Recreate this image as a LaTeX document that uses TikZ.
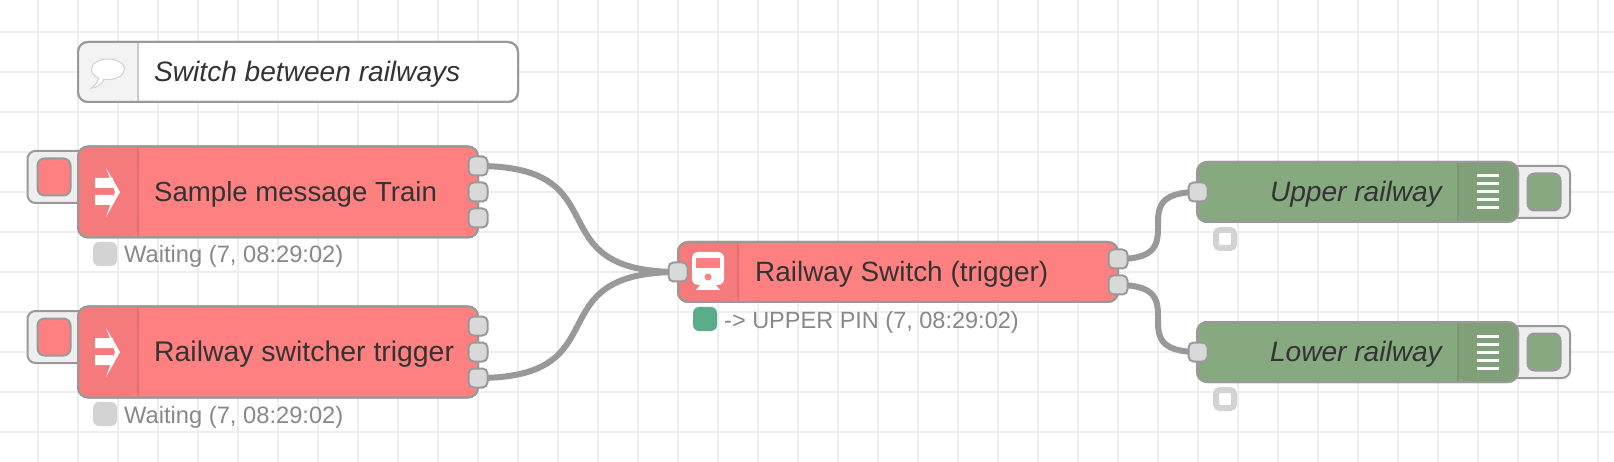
\documentclass[tikz,border=0pt]{standalone}
\usepackage{fontspec}
\setmainfont{Liberation Sans}
\usetikzlibrary{backgrounds}
\definecolor{gridc}{HTML}{EEEEEE}
\definecolor{edge}{HTML}{999999}
\definecolor{redn}{HTML}{FF8080}
\definecolor{redi}{HTML}{F47A7C}
\definecolor{redd}{HTML}{E57073}
\definecolor{grnn}{HTML}{87A980}
\definecolor{grni}{HTML}{80A07A}
\definecolor{grnd}{HTML}{799872}
\definecolor{portc}{HTML}{D9D9D9}
\definecolor{txt}{HTML}{333333}
\definecolor{stxt}{HTML}{888888}
\definecolor{stg}{HTML}{D3D3D3}
\definecolor{stn}{HTML}{5AAD88}
\tikzset{
  x=1pt,y=-1pt,
  body/.style={draw=edge,line width=2pt,rounded corners=10pt,inner sep=0pt,minimum width=#1},
  port/.style={draw=edge,fill=portc,line width=2pt,rounded corners=5pt,minimum width=19pt,minimum height=19pt,inner sep=0pt},
  btn/.style={draw=edge,fill=gridc,line width=2pt,rounded corners=8pt,inner sep=0pt,minimum width=60pt,minimum height=52pt},
  btnin/.style={draw=edge,line width=2pt,rounded corners=7pt,inner sep=0pt,minimum width=33pt,minimum height=37pt},
  label/.style={text=txt,inner sep=0pt,font=\fontsize{27.6}{30}\selectfont},
  itlabel/.style={text=txt,inner sep=0pt,font=\fontsize{28.1}{30}\selectfont\itshape},
  status/.style={text=stxt,inner sep=0pt,anchor=base west,font=\fontsize{23.7}{26}\selectfont},
  dot/.style={rounded corners=6pt,inner sep=0pt,minimum width=24pt,minimum height=24pt},
  hdot/.style={draw=stg,line width=6pt,fill=white,rounded corners=4pt,inner sep=0pt,minimum width=18pt,minimum height=18pt},
  wire/.style={draw=edge,line width=6pt},
}
% injection node: #1 name, #2 y of centre, #3 height, #4 label, #5 baseline
\newcommand{\injnode}[5]{
  \node[btn] (#1btn) at (57.5,#2-15) {};
  \node[btnin,fill=redn] (#1in) at (54,#2-15) {};
  \node[body=400pt,fill=redn,minimum height=#3] (#1) at (278,#2) {};
  \fill[redi,rounded corners=9pt] (138,#2-44) -- (79,#2-44) -- (79,#2+44) -- (138,#2+44) [sharp corners] -- cycle;
  \draw[redd,line width=2pt] (138,#2-44) -- (138,#2+44);
  \node[body=400pt,minimum height=#3] at (278,#2) {};
  \fill[white] (95,#2-14) rectangle (113,#2-4) (95,#2+3) rectangle (113,#2+13);
  \fill[white] (106,#2-24) -- (120,#2) -- (106,#2+25) -- (115,#2) -- cycle;
  \node[label,anchor=base west] (#1t) at (154,#5) {#4};
}
% output node: #1 name, #2 y, #3 label
\newcommand{\outnode}[3]{
  \node[btn] (#1btn) at (1540,#2) {};
  \node[btnin,fill=grnn] (#1in) at (1544,#2) {};
  \node[body=321pt,fill=grnn,minimum height=60pt] (#1) at (1357.5,#2) {};
  \fill[grni,rounded corners=9pt] (1458,#2-29) -- (1517,#2-29) -- (1517,#2+29) -- (1458,#2+29) [sharp corners] -- cycle;
  \draw[grnd,line width=2pt] (1458,#2-29) -- (1458,#2+29);
  \foreach \k in {-16,-8,0,8,16} \fill[white] (1477,#2+\k-1.5) rectangle (1499,#2+\k+1.5);
  \node[body=321pt,minimum height=60pt] at (1357.5,#2) {};
  \node[itlabel,anchor=base east] (#1t) at (1442,#2+9.7) {#3};
  \node[port] (#1p) at (1198,#2) {};
  \node[hdot] (#1s) at (1225,#2+47) {};
}
\begin{document}
\begin{tikzpicture}
\useasboundingbox (0,0) rectangle (1614,462);
\begin{pgfonlayer}{background}
  \fill[white] (0,0) rectangle (1614,462);
  \foreach \i in {0,...,39} \draw[gridc,line width=2pt] (38+40*\i,0) -- (38+40*\i,462);
  \foreach \i in {0,...,10} \draw[gridc,line width=2pt] (0,32+40*\i) -- (1614,32+40*\i);
\end{pgfonlayer}

% comment
\node[body=440pt,fill=white,minimum height=60pt] (cm) at (298,72) {};
\fill[gridc!70!white,rounded corners=9pt] (138,43) -- (79,43) -- (79,101) -- (138,101) [sharp corners] -- cycle;
\draw[gridc!85!black,line width=1.5pt] (138,43) -- (138,101);
\node[body=440pt,minimum height=60pt] at (298,72) {};
\draw[stg,fill=white,line width=1.1pt] (98.5,78) .. controls (94,76) and (91.5,73) .. (91.5,69) .. controls (91.5,63.5) and (99,59) .. (108,59) .. controls (117,59) and (124.5,63.5) .. (124.5,69) .. controls (124.5,75) and (117,79.5) .. (108,79.5) .. controls (106.5,79.5) and (105,79.3) .. (104,79.3) .. controls (102,84) and (97,88) .. (91.5,88) .. controls (95,85.5) and (98,82) .. (98.5,78) -- cycle;
\node[itlabel,anchor=base west] (cmt) at (154,81.7) {Switch between railways};

% left nodes
\injnode{a}{192}{91pt}{Sample message Train}{201.7}
\node[port] (a1) at (478,166) {};
\node[port] (a2) at (478,192) {};
\node[port] (a3) at (478,218) {};
\node[dot,fill=stg] (as) at (105,254) {};
\node[status] (ast) at (124,263) {Waiting (7, 08:29:02)};

\injnode{b}{352}{91pt}{\fontsize{28.4}{30}\selectfont Railway switcher trigger}{361.7}
\node[port] (b1) at (478,326) {};
\node[port] (b2) at (478,352) {};
\node[port] (b3) at (478,378) {};
\node[dot,fill=stg] (bs) at (105,414) {};
\node[status] (bst) at (124,423) {Waiting (7, 08:29:02)};

% switch node
\node[body=440pt,fill=redn,minimum height=60pt] (s) at (898,272) {};
\fill[redi,rounded corners=9pt] (738,243) -- (679,243) -- (679,301) -- (738,301) [sharp corners] -- cycle;
\draw[redd,line width=2pt] (738,243) -- (738,301);
\node[body=440pt,minimum height=60pt] at (898,272) {};
\fill[white,rounded corners=6pt] (692,285) -- (692,252) -- (724,252) -- (724,285) -- cycle;
\fill[redn] (696,258) rectangle (720,268);
\fill[redn] (708,277) circle (3.5);
\fill[white] (701,284) -- (715,284) -- (720,290) -- (696,290) -- cycle;
\node[label,anchor=base west,font=\fontsize{27.9}{30}\selectfont] (st) at (755,281.7) {Railway Switch (trigger)};
\node[port] (sin) at (678,272) {};
\node[port] (s1) at (1118,259) {};
\node[port] (s2) at (1118,285) {};
\node[dot,fill=stn] (ss) at (705,319) {};
\node[status,font=\fontsize{23.5}{26}\selectfont] (sst) at (724,328) {-> UPPER PIN (7, 08:29:02)};

% output nodes
\outnode{u}{192}{Upper railway}
\outnode{l}{352}{Lower railway}

% wires
\begin{pgfonlayer}{background}
  \draw[wire] (a1.center) .. controls +(145,0) and +(-145,0) .. (sin.center);
  \draw[wire] (b3.center) .. controls +(145,0) and +(-145,0) .. (sin.center);
  \draw[wire] (s1.center) .. controls +(80,0) and +(-80,0) .. (up.center);
  \draw[wire] (s2.center) .. controls +(80,0) and +(-80,0) .. (lp.center);
\end{pgfonlayer}
\end{tikzpicture}
\end{document}
